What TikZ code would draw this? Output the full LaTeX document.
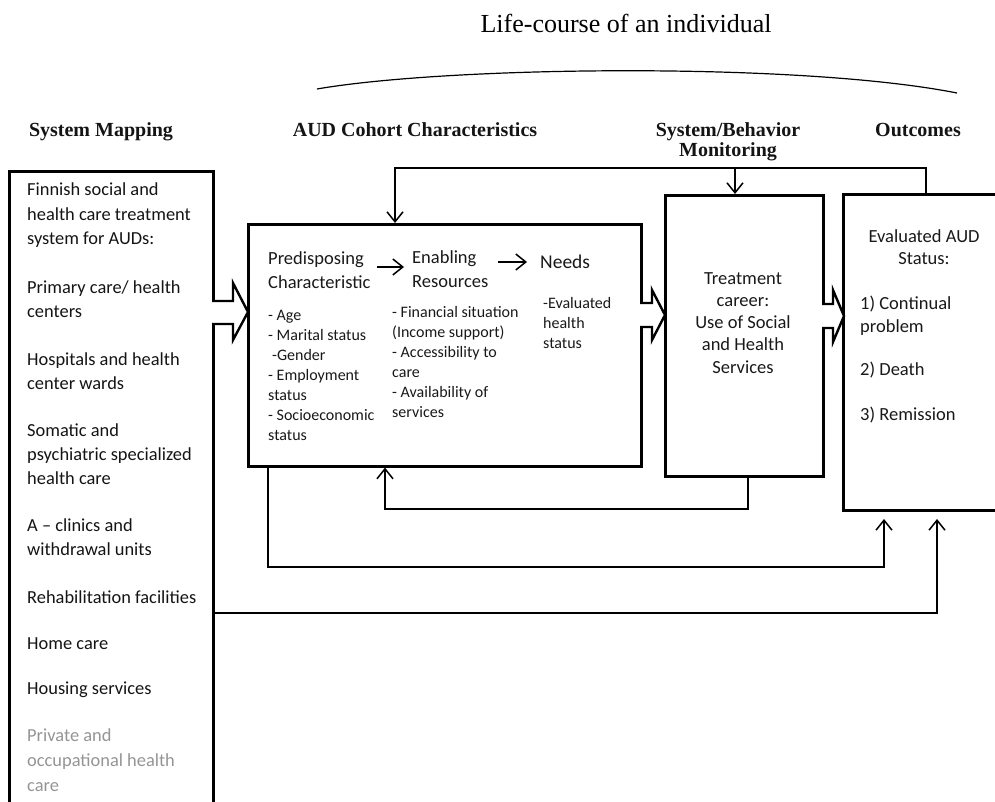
\documentclass[tikz,border=0pt]{standalone}
\usepackage{fontspec}
\setmainfont{Liberation Serif}
\newfontfamily\calfont{Carlito}
\usetikzlibrary{arrows.meta,calc}
\begin{document}
\begin{tikzpicture}[x=1pt,y=-1pt,
  box/.style={draw, line width=2.6pt, inner sep=0pt, anchor=north west},
  hollow/.style={draw, fill=white, line width=2.4pt, line join=miter},
  conn/.style={line width=1.3pt, -{Straight Barb[length=10pt,width=16pt,line width=1.5pt]}},
  hdr/.style={font=\bfseries\fontsize{20}{20}\selectfont, anchor=base, text=black!92, inner sep=0pt, align=center},
  lbl/.style={font=\calfont\fontsize{18.4}{24}\selectfont, anchor=base west, align=left, inner sep=0pt, text=black!92},
  ch/.style={font=\calfont\fontsize{18.5}{24}\selectfont, anchor=base west, align=left, inner sep=0pt, text=black!90},
  sm/.style={font=\calfont\fontsize{16}{20}\selectfont, anchor=base west, align=left, inner sep=0pt, text=black!90},
  tc/.style={font=\calfont\fontsize{18.5}{22.2}\selectfont, anchor=base, align=center, inner sep=0pt, text=black!90},
  ol/.style={font=\calfont\fontsize{18.5}{23}\selectfont, anchor=base west, align=left, inner sep=0pt, text=black!90}]
\useasboundingbox (0,0) rectangle (995,802);

% title and brace-like arc (multi-line nodes are anchored at the baseline of their last line)
\node[font=\fontsize{26}{30}\selectfont, anchor=base, inner sep=0pt] (title) at (626,33) {Life-course of an individual};
\coordinate (arcL) at (317,89);
\coordinate (arcR) at (957,93);
\draw[line width=1.2pt] (arcL) .. controls (450,66) and (800,62) .. (arcR);

% headers
\node[hdr] (h1) at (101,137) {System Mapping};
\node[hdr] (h2) at (415,137) {AUD Cohort Characteristics};
\node[hdr] (h3) at (728,157) {System/Behavior\\Monitoring};
\node[hdr] (h4) at (918,137) {Outcomes};

% boxes
\node[box, minimum width=204pt, minimum height=650pt] (sys) at (8,170) {};
\node[box, minimum width=393pt, minimum height=242pt] (coh) at (247,223) {};
\node[box, minimum width=158pt, minimum height=281pt] (trt) at (664,194) {};
\node[box, minimum width=180pt, minimum height=316pt] (out) at (842,193) {};

% left box text
\node[lbl] (s1) at (27,244) {Finnish social and\\health care treatment\\system for AUDs:};
\node[lbl] (s2) at (27,317) {Primary care/ health\\centers};
\node[lbl] (s3) at (27,389) {Hospitals and health\\center wards};
\node[lbl] (s4) at (27,484) {Somatic and\\psychiatric specialized\\health care};
\node[lbl] (s5) at (27,555) {A – clinics and\\withdrawal units};
\node[lbl] (s6) at (27,603) {Rehabilitation facilities};
\node[lbl] (s7) at (27,649) {Home care};
\node[lbl] (s8) at (27,694) {Housing services};
\node[lbl, text=black!42, font=\calfont\fontsize{18.4}{25}\selectfont] (s9) at (27,791) {Private and\\occupational health\\care};

% cohort box text
\node[ch] (pred) at (268,288) {Predisposing\\Characteristic};
\node[ch] (enab) at (412,287) {Enabling\\Resources};
\node[ch, font=\calfont\fontsize{19.5}{24}\selectfont] (need) at (540,269) {Needs};
\node[sm] (plist) at (268,440) {- Age\\- Marital status\\\hspace*{4pt}-Gender\\- Employment\\status\\- Socioeconomic\\status};
\node[sm] (elist) at (392,417) {- Financial situation\\(Income support)\\- Accessibility to\\care\\- Availability of\\services};
\node[sm] (nlist) at (543,348) {-Evaluated\\health\\status};
\coordinate (a1s) at (377,267);
\coordinate (a1e) at (404,267);
\coordinate (a2s) at (498,262);
\coordinate (a2e) at (527,262);
\draw[conn] (a1s) -- (a1e);
\draw[conn] (a2s) -- (a2e);

% treatment and outcome text
\node[tc] (ttext) at (743,373) {Treatment\\career:\\Use of Social\\and Health\\Services};
\node[tc] (otext) at (924,265) {Evaluated AUD\\Status:};
\node[ol] (o1) at (860,332) {1) Continual\\problem};
\node[ol] (o2) at (860,375) {2) Death};
\node[ol] (o3) at (860,420) {3) Remission};

% hollow block arrows
\draw[hollow] (212,301) -- (233,301) -- (233,283) -- (248,312) -- (233,340) -- (233,324) -- (212,324);
\draw[hollow] (640,303) -- (652,303) -- (652,290) -- (665,315) -- (652,340) -- (652,327) -- (640,327);
\draw[hollow] (822,304) -- (833,304) -- (833,290) -- (844,316) -- (833,342) -- (833,328) -- (822,328);

% top feedback
\coordinate (fbR) at (926,168);
\coordinate (fbL) at (395,168);
\coordinate (fbM) at (735,168);
\draw[conn] (fbR |- out.north) -- (fbR) -- (fbL) -- (fbL |- coh.north);
\draw[conn] (fbM) -- (fbM |- trt.north);

% bottom connectors
\coordinate (b1) at (748,509);
\coordinate (b1L) at (385,509);
\draw[conn] (b1 |- trt.south) -- (b1) -- (b1L) -- (b1L |- coh.south);
\coordinate (b2) at (268,567);
\coordinate (b2R) at (884,567);
\coordinate (tipA) at (884,519);
\draw[conn] (b2 |- coh.south) -- (b2) -- (b2R) -- (tipA);
\coordinate (b3R) at (937,613);
\coordinate (tipB) at (937,519);
\draw[conn] (sys.east |- b3R) -- (b3R) -- (tipB);
\end{tikzpicture}
\end{document}
